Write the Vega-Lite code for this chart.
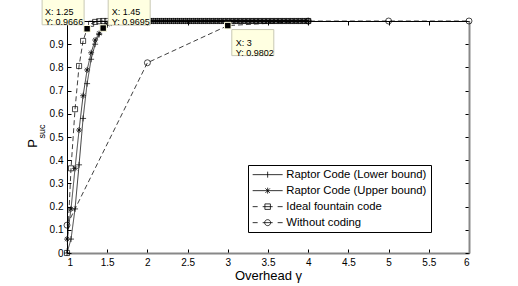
{
  "$schema": "https://vega.github.io/schema/vega-lite/v6.json",
  "width": 402,
  "height": 232,
  "autosize": "none",
  "padding": {"left": 67, "top": 21, "right": 49, "bottom": 33},
  "background": "white",
  "config": {
    "font": "Liberation Sans",
    "view": {"stroke": null},
    "axis": {"grid": false, "labelFont": "Liberation Sans", "titleFont": "Liberation Sans", "labelColor": "black", "titleColor": "black", "titleFontWeight": "normal", "tickColor": "black", "labelFontSize": 10}
  },
  "datasets": {
    "curves": [
      {"g": 1, "L": 0, "U": 0.06, "I": 0, "W": 0.12},
      {"g": 1.05, "L": 0.06, "U": 0.19, "I": 0.365},
      {"g": 1.1, "L": 0.19, "U": 0.365, "I": 0.62},
      {"g": 1.15, "L": 0.38, "U": 0.53, "I": 0.806},
      {"g": 1.2, "L": 0.58, "U": 0.678, "I": 0.914},
      {"g": 1.25, "L": 0.73, "U": 0.789, "I": 0.9666},
      {"g": 1.3, "L": 0.835, "U": 0.863, "I": 0.988},
      {"g": 1.35, "L": 0.9, "U": 0.918, "I": 0.996},
      {"g": 1.4, "L": 0.942, "U": 0.947, "I": 0.999},
      {"g": 1.45, "L": 0.9695, "U": 0.972, "I": 1},
      {"g": 1.5, "L": 0.983, "U": 0.986, "I": 1},
      {"g": 1.55, "L": 0.991, "U": 0.993, "I": 1},
      {"g": 1.6, "L": 0.996, "U": 0.997, "I": 1},
      {"g": 1.65, "L": 0.998, "U": 0.999, "I": 1},
      {"g": 1.7, "L": 0.999, "U": 1, "I": 1},
      {"g": 1.75, "L": 1, "U": 1, "I": 1},
      {"g": 1.8, "L": 1, "U": 1, "I": 1},
      {"g": 1.85, "L": 1, "U": 1, "I": 1},
      {"g": 1.9, "L": 1, "U": 1, "I": 1},
      {"g": 1.95, "L": 1, "U": 1, "I": 1},
      {"g": 2, "L": 1, "U": 1, "I": 1, "W": 0.82},
      {"g": 2.05, "L": 1, "U": 1, "I": 1},
      {"g": 2.1, "L": 1, "U": 1, "I": 1},
      {"g": 2.15, "L": 1, "U": 1, "I": 1},
      {"g": 2.2, "L": 1, "U": 1, "I": 1},
      {"g": 2.25, "L": 1, "U": 1, "I": 1},
      {"g": 2.3, "L": 1, "U": 1, "I": 1},
      {"g": 2.35, "L": 1, "U": 1, "I": 1},
      {"g": 2.4, "L": 1, "U": 1, "I": 1},
      {"g": 2.45, "L": 1, "U": 1, "I": 1},
      {"g": 2.5, "L": 1, "U": 1, "I": 1},
      {"g": 2.55, "L": 1, "U": 1, "I": 1},
      {"g": 2.6, "L": 1, "U": 1, "I": 1},
      {"g": 2.65, "L": 1, "U": 1, "I": 1},
      {"g": 2.7, "L": 1, "U": 1, "I": 1},
      {"g": 2.75, "L": 1, "U": 1, "I": 1},
      {"g": 2.8, "L": 1, "U": 1, "I": 1},
      {"g": 2.85, "L": 1, "U": 1, "I": 1},
      {"g": 2.9, "L": 1, "U": 1, "I": 1},
      {"g": 2.95, "L": 1, "U": 1, "I": 1},
      {"g": 3, "L": 1, "U": 1, "I": 1, "W": 0.9802},
      {"g": 3.05, "L": 1, "U": 1, "I": 1},
      {"g": 3.1, "L": 1, "U": 1, "I": 1},
      {"g": 3.15, "L": 1, "U": 1, "I": 1},
      {"g": 3.2, "L": 1, "U": 1, "I": 1},
      {"g": 3.25, "L": 1, "U": 1, "I": 1},
      {"g": 3.3, "L": 1, "U": 1, "I": 1},
      {"g": 3.35, "L": 1, "U": 1, "I": 1},
      {"g": 3.4, "L": 1, "U": 1, "I": 1},
      {"g": 3.45, "L": 1, "U": 1, "I": 1},
      {"g": 3.5, "L": 1, "U": 1, "I": 1},
      {"g": 3.55, "L": 1, "U": 1, "I": 1},
      {"g": 3.6, "L": 1, "U": 1, "I": 1},
      {"g": 3.65, "L": 1, "U": 1, "I": 1},
      {"g": 3.7, "L": 1, "U": 1, "I": 1},
      {"g": 3.75, "L": 1, "U": 1, "I": 1},
      {"g": 3.8, "L": 1, "U": 1, "I": 1},
      {"g": 3.85, "L": 1, "U": 1, "I": 1},
      {"g": 3.9, "L": 1, "U": 1, "I": 1},
      {"g": 3.95, "L": 1, "U": 1, "I": 1},
      {"g": 4, "L": 1, "U": 1, "I": 1, "W": 0.9997},
      {"g": 5, "W": 1},
      {"g": 6, "W": 1}
    ],
    "tips": [
      {"g": 1.25, "p": 0.9666, "k": "a", "t": "X: 1.25\nY: 0.9666"},
      {"g": 1.45, "p": 0.9695, "k": "b", "t": "X: 1.45\nY: 0.9695"},
      {"g": 3, "p": 0.9802, "k": "c", "t": "X: 3\nY: 0.9802"}
    ]
  },
  "resolve": {"scale": {"shape": "independent"}, "axis": {"x": "independent", "y": "independent"}},
  "layer": [
    {
      "mark": {"type": "rule", "stroke": "#9a9a9a", "strokeWidth": 1, "strokeDash": [1, 2.5]},
      "encoding": {
        "y": {"datum": 0.95, "type": "quantitative", "scale": {"domain": [0, 1], "nice": false}, "axis": null}
      }
    },
    {
      "data": {"name": "curves"},
      "transform": [{"fold": ["L", "U", "I", "W"], "as": ["s", "p"]}, {"filter": "isValid(datum.p)"}],
      "mark": {"type": "line", "color": "black", "strokeWidth": 0.75},
      "encoding": {
        "x": {"field": "g", "type": "quantitative", "scale": {"domain": [1, 6], "nice": false, "zero": false},
          "axis": {"orient": "bottom", "values": [1, 1.5, 2, 2.5, 3, 3.5, 4, 4.5, 5, 5.5, 6], "format": "~g", "tickSize": -4, "labelPadding": 8, "domainColor": "#888888", "domainWidth": 2, "title": "Overhead γ", "titleFontSize": 13, "titleBaseline": "alphabetic", "titleY": 26}},
        "y": {"field": "p", "type": "quantitative", "scale": {"domain": [0, 1], "nice": false},
          "axis": {"orient": "left", "values": [0, 0.1, 0.2, 0.3, 0.4, 0.5, 0.6, 0.7, 0.8, 0.9, 1], "format": "~g", "tickSize": -4, "labelPadding": 8, "domainColor": "black", "domainWidth": 1, "title": "P", "titleFontSize": 13, "titleX": -35, "titleY": 122, "titleAlign": "center", "titleBaseline": "middle", "titleAngle": -90}},
        "detail": {"field": "s"},
        "strokeDash": {"field": "s", "type": "nominal", "scale": {"domain": ["L", "U", "I", "W"], "range": [[1, 0], [1, 0], [5, 3], [5, 3]]}, "legend": null}
      }
    },
    {
      "data": {"name": "curves"},
      "transform": [{"fold": ["L", "U", "I", "W"], "as": ["s", "p"]}, {"filter": "isValid(datum.p)"}],
      "mark": {"type": "point", "filled": false, "color": "black", "strokeWidth": 0.7, "size": 36, "opacity": 1},
      "encoding": {
        "x": {"field": "g", "type": "quantitative", "scale": {"domain": [1, 6], "nice": false, "zero": false},
          "axis": {"orient": "top", "values": [1, 1.5, 2, 2.5, 3, 3.5, 4, 4.5, 5, 5.5, 6], "labels": false, "tickSize": -4, "domainColor": "black", "domainWidth": 1, "title": null}},
        "y": {"field": "p", "type": "quantitative", "scale": {"domain": [0, 1], "nice": false},
          "axis": {"orient": "right", "values": [0, 0.1, 0.2, 0.3, 0.4, 0.5, 0.6, 0.7, 0.8, 0.9, 1], "labels": false, "tickSize": -4, "domainColor": "#888888", "domainWidth": 2, "title": null}},
        "shape": {"field": "s", "type": "nominal", "scale": {"domain": ["L", "U", "I", "W"], "range": ["M-1,0H1M0,-1V1", "M-1,0H1M0,-1V1M-0.7,-0.7L0.7,0.7M-0.7,0.7L0.7,-0.7", "M-0.85,-0.85H0.85V0.85H-0.85Z", "circle"]}, "legend": null}
      }
    },
    {
      "data": {"name": "curves"},
      "transform": [{"fold": ["L", "U", "I", "W"], "as": ["s", "p"]}, {"filter": "datum.g > 10"}],
      "mark": {"type": "point", "filled": false, "color": "black", "strokeWidth": 0.8, "opacity": 1},
      "encoding": {
        "x": {"field": "g", "type": "quantitative", "scale": {"domain": [1, 6], "nice": false, "zero": false}, "axis": null},
        "y": {"field": "p", "type": "quantitative", "scale": {"domain": [0, 1], "nice": false},
          "axis": {"orient": "left", "labels": false, "ticks": false, "domain": false, "title": "suc", "titleFontSize": 9, "titleX": -26, "titleY": 110, "titleAlign": "center", "titleBaseline": "middle", "titleAngle": -90}},
        "shape": {"field": "s", "type": "nominal",
          "scale": {"domain": ["L", "U", "I", "W"], "range": [
            "M-3,0H3M0,-0.6V0.6",
            "M-3,0H3M0,-0.6V0.6M-0.45,-0.45L0.45,0.45M-0.45,0.45L0.45,-0.45",
            "M-3,0H-2M-1,0H1M2,0H3M-0.55,-0.55H0.55V0.55H-0.55Z",
            "M-3,0H-2M-1,0H1M2,0H3M0.6,0A0.6,0.6 0 1,1 -0.6,0A0.6,0.6 0 1,1 0.6,0"]},
          "legend": {"title": null, "orient": "none", "legendX": 181, "legendY": 144, "direction": "vertical", "strokeColor": "black", "fillColor": "white", "padding": 4, "cornerRadius": 0, "labelFontSize": 11.3, "labelFont": "Liberation Sans", "labelColor": "black", "symbolSize": 100, "symbolStrokeWidth": 0.8, "symbolStrokeColor": "black", "symbolFillColor": "transparent", "symbolOffset": 10, "labelOffset": 13, "rowPadding": 4,
            "labelExpr": "datum.label == 'L' ? 'Raptor Code (Lower bound)' : datum.label == 'U' ? 'Raptor Code (Upper bound)' : datum.label == 'I' ? 'Ideal fountain code' : 'Without coding'"}}
      }
    },
    {
      "data": {"name": "tips"},
      "transform": [{"filter": "datum.k == 'a'"}],
      "mark": {"type": "point", "shape": "M-1,-0.62H1V0.62H-1Z", "size": 1764, "filled": true, "fill": "#ffffe1", "stroke": "#c8c8b4", "strokeWidth": 1, "opacity": 1, "xOffset": -24, "yOffset": -17},
      "encoding": {
        "x": {"field": "g", "type": "quantitative", "scale": {"domain": [1, 6], "nice": false, "zero": false}, "axis": null},
        "y": {"field": "p", "type": "quantitative", "scale": {"domain": [0, 1], "nice": false}, "axis": null}
      }
    },
    {
      "data": {"name": "tips"},
      "transform": [{"filter": "datum.k == 'b'"}],
      "mark": {"type": "point", "shape": "M-1,-0.62H1V0.62H-1Z", "size": 1764, "filled": true, "fill": "#ffffe1", "stroke": "#c8c8b4", "strokeWidth": 1, "opacity": 1, "xOffset": 26, "yOffset": -16},
      "encoding": {
        "x": {"field": "g", "type": "quantitative", "scale": {"domain": [1, 6], "nice": false, "zero": false}, "axis": null},
        "y": {"field": "p", "type": "quantitative", "scale": {"domain": [0, 1], "nice": false}, "axis": null}
      }
    },
    {
      "data": {"name": "tips"},
      "transform": [{"filter": "datum.k == 'c'"}],
      "mark": {"type": "point", "shape": "M-1,-0.62H1V0.62H-1Z", "size": 1764, "filled": true, "fill": "#ffffe1", "stroke": "#c8c8b4", "strokeWidth": 1, "opacity": 1, "xOffset": 25, "yOffset": 17},
      "encoding": {
        "x": {"field": "g", "type": "quantitative", "scale": {"domain": [1, 6], "nice": false, "zero": false}, "axis": null},
        "y": {"field": "p", "type": "quantitative", "scale": {"domain": [0, 1], "nice": false}, "axis": null}
      }
    },
    {
      "data": {"name": "tips"},
      "transform": [{"filter": "datum.k == 'a'"}],
      "mark": {"type": "text", "align": "left", "baseline": "middle", "lineBreak": "\n", "lineHeight": 10, "fontSize": 9, "color": "black", "dx": -42, "dy": -17},
      "encoding": {
        "x": {"field": "g", "type": "quantitative", "scale": {"domain": [1, 6], "nice": false, "zero": false}, "axis": null},
        "y": {"field": "p", "type": "quantitative", "scale": {"domain": [0, 1], "nice": false}, "axis": null},
        "text": {"field": "t"}
      }
    },
    {
      "data": {"name": "tips"},
      "transform": [{"filter": "datum.k == 'b'"}],
      "mark": {"type": "text", "align": "left", "baseline": "middle", "lineBreak": "\n", "lineHeight": 10, "fontSize": 9, "color": "black", "dx": 8.5, "dy": -16},
      "encoding": {
        "x": {"field": "g", "type": "quantitative", "scale": {"domain": [1, 6], "nice": false, "zero": false}, "axis": null},
        "y": {"field": "p", "type": "quantitative", "scale": {"domain": [0, 1], "nice": false}, "axis": null},
        "text": {"field": "t"}
      }
    },
    {
      "data": {"name": "tips"},
      "transform": [{"filter": "datum.k == 'c'"}],
      "mark": {"type": "text", "align": "left", "baseline": "middle", "lineBreak": "\n", "lineHeight": 10, "fontSize": 9, "color": "black", "dx": 8, "dy": 17},
      "encoding": {
        "x": {"field": "g", "type": "quantitative", "scale": {"domain": [1, 6], "nice": false, "zero": false}, "axis": null},
        "y": {"field": "p", "type": "quantitative", "scale": {"domain": [0, 1], "nice": false}, "axis": null},
        "text": {"field": "t"}
      }
    },
    {
      "data": {"name": "tips"},
      "mark": {"type": "point", "shape": "square", "size": 42, "filled": true, "fill": "black", "stroke": "#ffffe1", "strokeWidth": 1, "opacity": 1},
      "encoding": {
        "x": {"field": "g", "type": "quantitative", "scale": {"domain": [1, 6], "nice": false, "zero": false}, "axis": null},
        "y": {"field": "p", "type": "quantitative", "scale": {"domain": [0, 1], "nice": false}, "axis": null}
      }
    }
  ]
}
